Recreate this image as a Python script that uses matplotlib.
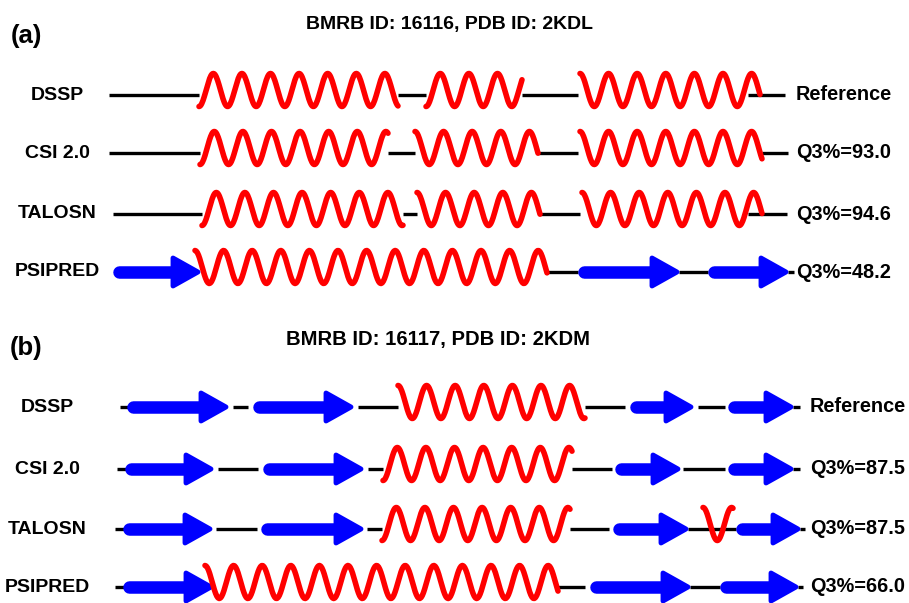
import numpy as np
import matplotlib
matplotlib.use("Agg")
import matplotlib.pyplot as plt
from matplotlib.patches import Polygon

plt.rcParams['font.family'] = ['Liberation Sans', 'DejaVu Sans']

# secondary structure segments, in pixel-like sequence coordinates
# ("C" coil, "E" strand, "H" helix with start phase in turns: 0 = top, 0.5 = bottom)
methods = ["DSSP", "CSI 2.0", "TALOSN", "PSIPRED"]

a_title = "BMRB ID: 16116, PDB ID: 2KDL"
a_scores = ["Reference", "Q3%=93.0", "Q3%=94.6", "Q3%=48.2"]
a_rows = [
    [("C", 109, 199), ("H", 199, 398, 0.5), ("C", 398, 426), ("H", 426, 522, 0.5),
     ("C", 522, 578), ("H", 580, 760, 0.0), ("C", 748, 785)],
    [("C", 109, 200), ("H", 200, 388, 0.5), ("C", 388, 415), ("H", 415, 538, 0.0),
     ("C", 538, 578), ("H", 580, 762, 0.0), ("C", 762, 788)],
    [("C", 113, 202), ("H", 202, 403, 0.5), ("C", 403, 417), ("H", 417, 540, 0.0),
     ("C", 540, 580), ("H", 582, 762, 0.0), ("C", 748, 787)],
    [("E", 113, 200), ("H", 195, 547, 0.0), ("C", 547, 578), ("E", 578, 679),
     ("C", 679, 708), ("E", 708, 788), ("C", 788, 794)],
]

b_title = "BMRB ID: 16117, PDB ID: 2KDM"
b_scores = ["Reference", "Q3%=87.5", "Q3%=87.5", "Q3%=66.0"]
b_rows = [
    [("C", 120, 128), ("E", 127, 228), ("C", 233, 248), ("E", 253, 353), ("C", 358, 398),
     ("H", 398, 585, 0.0), ("C", 585, 625), ("E", 630, 693), ("C", 698, 725),
     ("E", 728, 793), ("C", 793, 800)],
    [("C", 117, 126), ("E", 125, 213), ("C", 218, 258), ("E", 263, 363), ("C", 368, 383),
     ("H", 383, 572, 0.5), ("C", 572, 612), ("E", 615, 680), ("C", 683, 725),
     ("E", 728, 793), ("C", 793, 800)],
    [("C", 115, 124), ("E", 123, 212), ("C", 216, 257), ("E", 261, 363), ("C", 367, 382),
     ("H", 382, 570, 0.5), ("C", 570, 609), ("E", 613, 688), ("C", 688, 736),
     ("H", 703, 733, 0.0), ("E", 736, 800), ("C", 800, 805)],
    [("C", 115, 124), ("E", 123, 213), ("H", 205, 558, 0.0), ("C", 558, 585),
     ("E", 590, 690), ("C", 690, 720), ("E", 720, 798), ("C", 798, 803)],
]

a_row_y = [95, 153, 214, 272]
b_row_y = [407, 469, 529, 587]

RED = "#ff0000"
BLUE = "#0000ff"
PERIOD = 28.6
AMP = 16.5


def draw_row(ax, segs, yc):
    for seg in segs:
        kind, x0, x1 = seg[0], seg[1], seg[2]
        if kind == "C":
            ax.plot([x0, x1], [yc, yc], color="black", lw=2.4, solid_capstyle="butt", zorder=1)
        elif kind == "H":
            x = np.linspace(x0, x1, 300)
            y = yc - 5 - AMP * np.cos(2 * np.pi * ((x - x0) / PERIOD + seg[3]))
            ax.plot(x, y, color=RED, lw=4.0, solid_capstyle="round", zorder=3)
        else:
            head_len, head_w, shaft = 27, 14, 9.0
            ax.plot([x0 + 6, x1 - head_len], [yc, yc], color=BLUE, lw=shaft,
                    solid_capstyle="round", zorder=2)
            head = Polygon([[x1 - head_len, yc - head_w], [x1 - 2, yc], [x1 - head_len, yc + head_w]],
                           closed=True, facecolor=BLUE, edgecolor=BLUE, lw=3.5,
                           joinstyle="round", zorder=2)
            ax.add_patch(head)


fig = plt.figure(figsize=(9.09, 6.03), dpi=100)
ax = fig.add_axes([0, 0, 1, 1])
ax.set_xlim(0, 909)
ax.set_ylim(603, 0)
ax.axis("off")

panels = [
    ("(a)", (26, 36), a_title, (449, 25), 14, a_rows, a_row_y, a_scores, 57, 796),
    ("(b)", (26, 348), b_title, (438, 339), 14.6, b_rows, b_row_y, b_scores, 47, 810),
]
for tag, tag_xy, title, title_xy, tsize, rows, rows_y, scores, lab_x, score_x in panels:
    ax.text(*tag_xy, tag, fontsize=18.5, fontweight="bold", ha="center", va="center")
    ax.text(*title_xy, title, fontsize=tsize, fontweight="bold", ha="center", va="center")
    for name, segs, yc, score in zip(methods, rows, rows_y, scores):
        ax.text(lab_x, yc, name, fontsize=14, fontweight="bold", ha="center", va="center")
        draw_row(ax, segs, yc)
        ax.text(score_x, yc, score, fontsize=14.3, fontweight="bold", ha="left", va="center")

fig.savefig("out.png", dpi=100, facecolor="white")
